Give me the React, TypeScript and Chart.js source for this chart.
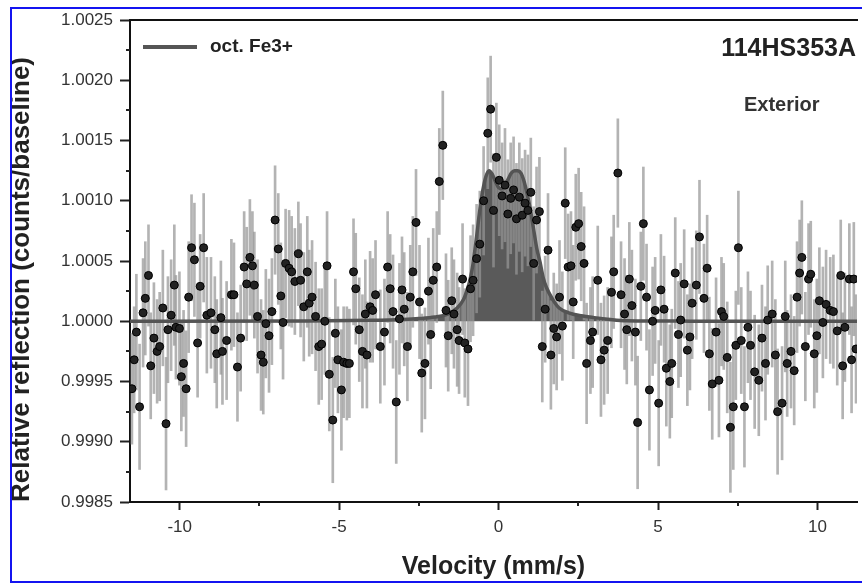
import React, { useEffect, useRef } from "react";
import { Chart, registerables } from "chart.js";

Chart.register(...registerables);

// Measured channels: velocity (mm/s), relative reflection, error (units of 1e-4)
const VELOCITY = [
  -11.5, -11.43, -11.36, -11.26, -11.15, -11.08, -10.98, -10.91, -10.81, -10.71,
  -10.63, -10.53, -10.43, -10.37, -10.27, -10.17, -10.12, -10.01, -9.95, -9.88,
  -9.8, -9.72, -9.63, -9.54, -9.44, -9.36, -9.25, -9.15, -9.02, -8.9,
  -8.84, -8.71, -8.66, -8.53, -8.38, -8.3, -8.19, -8.09, -7.98, -7.9,
  -7.8, -7.72, -7.66, -7.56, -7.45, -7.38, -7.3, -7.2, -7.11, -7.01,
  -6.91, -6.83, -6.76, -6.68, -6.57, -6.49, -6.39, -6.28, -6.21, -6.11,
  -6.0, -5.94, -5.85, -5.74, -5.64, -5.55, -5.45, -5.38, -5.31, -5.2,
  -5.12, -5.04, -4.93, -4.86, -4.76, -4.68, -4.55, -4.48, -4.37, -4.27,
  -4.18, -4.13, -4.03, -3.95, -3.86, -3.71, -3.58, -3.48, -3.4, -3.31,
  -3.21, -3.11, -3.03, -2.96, -2.86, -2.77, -2.69, -2.59, -2.48, -2.41,
  -2.31, -2.2, -2.13, -2.05, -1.94, -1.86, -1.75, -1.65, -1.58, -1.47,
  -1.4, -1.3, -1.24, -1.13, -1.06, -0.96, -0.88, -0.8, -0.69, -0.59,
  -0.47, -0.34, -0.25, -0.16, -0.07, 0.02, 0.11, 0.2, 0.29, 0.38,
  0.47, 0.56, 0.65, 0.74, 0.83, 0.92, 1.01, 1.1, 1.19, 1.28,
  1.37, 1.46, 1.55, 1.64, 1.73, 1.82, 1.91, 2.0, 2.09, 2.18,
  2.27, 2.34, 2.42, 2.51, 2.59, 2.68, 2.76, 2.88, 2.95, 3.11,
  3.21, 3.31, 3.42, 3.54, 3.61, 3.74, 3.84, 3.95, 4.02, 4.1,
  4.18, 4.29, 4.36, 4.46, 4.54, 4.64, 4.73, 4.83, 4.91, 5.02,
  5.09, 5.19, 5.26, 5.37, 5.43, 5.54, 5.64, 5.71, 5.82, 5.92,
  6.0, 6.07, 6.2, 6.3, 6.44, 6.54, 6.61, 6.7, 6.82, 6.91,
  6.99, 7.06, 7.17, 7.27, 7.36, 7.44, 7.52, 7.61, 7.71, 7.82,
  7.9, 8.03, 8.16, 8.26, 8.37, 8.44, 8.58, 8.68, 8.75, 8.89,
  8.99, 9.05, 9.17, 9.27, 9.36, 9.44, 9.51, 9.62, 9.72, 9.79,
  9.9, 9.98, 10.06, 10.17, 10.27, 10.4, 10.5, 10.62, 10.73, 10.79,
  10.86, 11.0, 11.07, 11.14, 11.21,
];

const REFLECTION = [
  0.99944, 0.99968, 0.99991, 0.99929, 1.00007, 1.00019, 1.00038, 0.99963, 0.99986, 0.99975,
  0.99979, 1.00011, 0.99915, 0.99993, 1.00005, 1.0003, 0.99995, 0.99994, 0.99954, 0.99965,
  0.99944, 1.0002, 1.00061, 1.00051, 0.99982, 1.00029, 1.00061, 1.00005, 1.00007, 0.99993,
  0.99973, 1.00003, 0.99975, 0.99984, 1.00022, 1.00022, 0.99962, 0.99986, 1.00045, 1.00031,
  1.00053, 1.00046, 1.0003, 1.00004, 0.99972, 0.99966, 0.99998, 0.99988, 1.00008, 1.00084,
  1.0006, 1.00021, 0.99999, 1.00048, 1.00044, 1.00041, 1.00033, 1.00056, 1.00034, 1.00012,
  1.00041, 1.00015, 1.0002, 1.00004, 0.99979, 0.99981, 1.0, 1.00046, 0.99956, 0.99918,
  0.9999, 0.99968, 0.99943, 0.99966, 0.99965, 0.99965, 1.00041, 1.00027, 0.99993, 0.99975,
  1.00006, 0.99972, 1.00012, 1.00009, 1.00022, 0.99979, 0.99991, 1.00045, 1.00027, 1.00008,
  0.99933, 1.00002, 1.00026, 1.0001, 0.99979, 1.0002, 1.00041, 1.00082, 1.00016, 0.99957,
  0.99965, 1.00025, 0.99989, 1.00034, 1.00045, 1.00116, 1.00146, 1.00009, 0.99988, 1.00017,
  1.00006, 0.99993, 0.99984, 1.00035, 0.99982, 0.99977, 1.00027, 1.00034, 1.00052, 1.00064,
  1.001, 1.00156, 1.00176, 1.00092, 1.00136, 1.00117, 1.00104, 1.00113, 1.00089, 1.00102,
  1.00109, 1.00085, 1.00103, 1.00088, 1.00098, 1.00092, 1.00107, 1.00048, 1.00084, 1.00091,
  0.99979, 1.0001, 1.00059, 0.99972, 0.99994, 0.99987, 1.0002, 0.99996, 1.00098, 1.00045,
  1.00046, 1.00016, 1.00078, 1.00081, 1.00062, 1.00048, 0.99965, 0.99984, 0.99991, 1.00034,
  0.99968, 0.99976, 0.99984, 1.00024, 1.00041, 1.00123, 1.00022, 1.00006, 0.99993, 1.00035,
  1.00013, 0.99991, 0.99916, 1.00029, 1.00081, 1.0002, 0.99943, 1.0, 1.00009, 0.99932,
  1.00026, 1.0001, 0.99961, 0.9995, 0.99965, 1.0004, 0.99989, 1.00001, 1.00031, 0.99976,
  0.99987, 1.00015, 1.0003, 1.0007, 1.00019, 1.00044, 0.99973, 0.99948, 0.99991, 0.99951,
  1.00008, 1.00004, 0.9997, 0.99912, 0.99929, 0.9998, 1.00061, 0.99984, 0.99929, 0.99995,
  0.9998, 0.99958, 0.99951, 0.99986, 0.99965, 1.00001, 1.00006, 0.99972, 0.99925, 0.99932,
  1.00004, 0.99965, 0.99975, 0.99959, 1.0002, 1.0004, 1.00053, 0.99979, 1.00035, 1.00039,
  0.99973, 0.99988, 1.00017, 0.99999, 1.00014, 1.00009, 1.00008, 0.99992, 1.00038, 0.99963,
  0.99995, 1.00035, 0.99968, 1.00035, 0.99977,
];

const ERROR_E4 = [
  4.6, 4.4, 4.8, 5.2, 4.5, 4.7, 4.2, 4.4, 4.6, 4.3,
  4.5, 4.8, 5.5, 4.4, 4.6, 5.0, 4.3, 4.7, 4.5, 4.4,
  4.8, 4.6, 4.4, 4.7, 4.5, 4.3, 4.5, 4.8, 4.6, 4.4,
  4.5, 4.7, 4.4, 4.9, 4.6, 4.3, 4.5, 4.4, 4.6, 4.7,
  4.8, 4.5, 4.4, 4.7, 4.6, 4.3, 4.5, 4.7, 4.4, 4.5,
  4.6, 4.4, 4.7, 4.5, 4.8, 4.6, 4.4, 4.3, 4.7, 4.5,
  4.6, 4.4, 4.7, 4.5, 4.8, 4.6, 4.4, 4.5, 4.7, 5.2,
  4.5, 4.4, 5.0, 4.6, 4.7, 4.5, 4.4, 4.6, 4.3, 4.7,
  4.5, 4.4, 4.6, 4.3, 4.5, 4.7, 4.4, 4.6, 4.5, 4.7,
  5.1, 4.6, 4.4, 4.7, 4.5, 4.3, 4.6, 4.4, 4.7, 4.9,
  4.6, 4.4, 4.5, 4.3, 4.6, 4.4, 4.5, 4.7, 4.6, 4.4,
  4.5, 4.7, 4.4, 4.6, 4.5, 4.7, 4.4, 4.6, 4.5, 4.4,
  4.5, 4.6, 4.4, 4.7, 4.5, 4.6, 4.4, 4.7, 4.5, 4.6,
  4.4, 4.6, 4.5, 4.7, 4.4, 4.6, 4.5, 4.7, 4.4, 4.5,
  4.6, 4.4, 4.7, 4.5, 4.6, 4.4, 4.7, 4.5, 4.6, 4.4,
  4.5, 4.7, 4.4, 4.6, 4.5, 4.7, 5.0, 4.4, 4.6, 4.5,
  4.7, 4.5, 4.4, 4.6, 4.7, 4.5, 4.4, 4.6, 4.5, 4.7,
  4.6, 4.4, 5.5, 4.5, 4.7, 4.4, 5.0, 4.5, 4.4, 5.2,
  4.6, 4.4, 4.8, 4.7, 4.5, 4.6, 4.4, 4.7, 4.5, 4.6,
  4.4, 4.6, 4.5, 4.7, 4.5, 4.4, 4.7, 4.6, 4.5, 4.7,
  4.5, 4.4, 4.6, 5.4, 5.2, 4.5, 4.7, 4.4, 5.0, 4.6,
  4.5, 4.7, 4.6, 4.4, 4.7, 4.5, 4.4, 4.6, 5.2, 4.7,
  4.6, 4.4, 4.7, 4.5, 4.6, 4.4, 4.7, 4.5, 4.6, 4.4,
  4.5, 4.7, 4.4, 4.6, 4.5, 4.4, 4.7, 4.5, 4.6, 4.4,
  4.5, 4.6, 4.4, 4.7, 4.5,
];

// Fitted octahedral Fe3+ doublet
const FIT_VELOCITY = [
  -11.6, -6, -4, -3, -2.5, -2.0, -1.6, -1.3, -1.1, -1.0, -0.9, -0.8, -0.7, -0.6, -0.5,
  -0.4, -0.3, -0.2, -0.1, 0.0, 0.1, 0.2, 0.3, 0.4, 0.5, 0.6, 0.7, 0.8, 0.9, 1.0,
  1.1, 1.2, 1.3, 1.4, 1.5, 1.7, 1.9, 2.2, 2.6, 3.0, 3.5, 4.0, 6.0, 11.3,
];
const FIT_REFLECTION = [
  1.0, 1.000002, 1.000008, 1.000015, 1.000022, 1.000035, 1.00006, 1.00011, 1.00018, 1.00025,
  1.00034, 1.00048, 1.00068, 1.0009, 1.00108, 1.0012, 1.00125, 1.00122, 1.00116, 1.00111,
  1.0011, 1.00113, 1.00118, 1.00123, 1.00125, 1.00125, 1.00123, 1.00116, 1.00105, 1.00092,
  1.00076, 1.0006, 1.00049, 1.00036, 1.00028, 1.00018, 1.00011, 1.00007, 1.000045, 1.00003,
  1.000015, 1.000005, 1.000001, 1.0,
];

const X_TICKS = [-10, -5, 0, 5, 10];
const X_MINOR = [-7.5, -2.5, 2.5, 7.5];
const Y_TICKS = [0.9985, 0.999, 0.9995, 1.0, 1.0005, 1.001, 1.0015, 1.002, 1.0025];
const Y_MINOR = [0.99875, 0.99925, 0.99975, 1.00025, 1.00075, 1.00125, 1.00175, 1.00225];
const X_MIN = -11.56;
const X_MAX = 11.24;
const Y_MIN = 0.9985;
const Y_MAX = 1.0025;

const LEGEND_LABEL = "oct. Fe3+";
const SAMPLE_LABEL = "114HS353A";
const REGION_LABEL = "Exterior";
const X_TITLE = "Velocity (mm/s)";
const Y_TITLE = "Relative reflection (counts/baseline)";

const FONT = "'Liberation Sans', Arial, Helvetica, sans-serif";

const decorPlugin = {
  id: "decor",
  afterDraw(chart: any) {
    const { ctx, scales } = chart;
    const x = scales.x;
    const y = scales.y;
    ctx.save();
    // minor ticks
    ctx.strokeStyle = "#222";
    ctx.lineWidth = 2;
    Y_MINOR.forEach((v) => {
      const py = Math.round(y.getPixelForValue(v));
      ctx.beginPath();
      ctx.moveTo(x.left - 4, py);
      ctx.lineTo(x.left, py);
      ctx.stroke();
    });
    X_MINOR.forEach((v) => {
      const px = Math.round(x.getPixelForValue(v));
      ctx.beginPath();
      ctx.moveTo(px, y.bottom);
      ctx.lineTo(px, y.bottom + 4);
      ctx.stroke();
    });
    // legend
    ctx.strokeStyle = "#555";
    ctx.lineWidth = 4;
    ctx.beginPath();
    ctx.moveTo(143, 47);
    ctx.lineTo(197, 47);
    ctx.stroke();
    ctx.fillStyle = "#222";
    ctx.textBaseline = "middle";
    ctx.textAlign = "left";
    ctx.font = `bold 19px ${FONT}`;
    ctx.fillText(LEGEND_LABEL, 210, 47);
    ctx.textAlign = "right";
    ctx.font = `bold 25px ${FONT}`;
    ctx.fillText(SAMPLE_LABEL, 856, 49);
    ctx.textAlign = "left";
    ctx.fillStyle = "#333";
    ctx.font = `bold 20px ${FONT}`;
    ctx.fillText(REGION_LABEL, 744, 105);
    // blue frame
    ctx.fillStyle = "#1414f0";
    ctx.fillRect(10, 7, 2, 576);
    ctx.fillRect(10, 7, 860, 2);
    ctx.fillRect(10, 581, 860, 2);
    ctx.restore();
  },
};

export default function App() {
  const canvasRef = useRef<HTMLCanvasElement | null>(null);

  useEffect(() => {
    const canvas = canvasRef.current;
    if (!canvas) return;
    const points = VELOCITY.map((v, i) => ({ x: v, y: REFLECTION[i] }));
    const bars = VELOCITY.map((v, i) => ({
      x: v,
      y: [REFLECTION[i] - ERROR_E4[i] * 1e-4, REFLECTION[i] + ERROR_E4[i] * 1e-4],
    }));
    const fit = FIT_VELOCITY.map((v, i) => ({ x: v, y: FIT_REFLECTION[i] }));

    const chart = new Chart(canvas, {
      type: "scatter",
      data: {
        datasets: [
          {
            type: "line",
            label: "fill",
            data: fit,
            borderWidth: 0,
            borderColor: "rgba(0,0,0,0)",
            backgroundColor: "#5a5a5a",
            fill: { value: 1.0 },
            pointRadius: 0,
            cubicInterpolationMode: "monotone",
            order: 4,
          } as any,
          {
            type: "bar",
            label: "err",
            data: bars as any,
            backgroundColor: "rgba(150,150,150,0.72)",
            borderWidth: 0,
            barThickness: 2,
            order: 3,
          } as any,
          {
            type: "line",
            label: LEGEND_LABEL,
            data: fit,
            borderWidth: 3.5,
            borderColor: "#545454",
            fill: false,
            pointRadius: 0,
            cubicInterpolationMode: "monotone",
            order: 2,
          } as any,
          {
            type: "scatter",
            label: "data",
            data: points,
            pointRadius: 4,
            pointBackgroundColor: "#222",
            pointBorderColor: "#000",
            pointBorderWidth: 1,
            order: 1,
          } as any,
        ],
      },
      options: {
        responsive: false,
        animation: false,
        layout: { padding: { top: 20, left: 0, right: 0, bottom: 0 } },
        plugins: { legend: { display: false }, tooltip: { enabled: false } },
        scales: {
          x: {
            type: "linear",
            position: "bottom",
            min: X_MIN,
            max: X_MAX,
            offset: false,
            afterBuildTicks: (s: any) => {
              s.ticks = X_TICKS.map((value) => ({ value }));
            },
            afterFit: (s: any) => {
              s.height = 82;
            },
            ticks: {
              color: "#333",
              font: { family: FONT, size: 17 },
              padding: 7,
              maxRotation: 0,
              callback: (v: any) => String(v),
            },
            grid: {
              drawOnChartArea: false,
              drawTicks: true,
              tickLength: 8,
              tickWidth: 2,
              tickColor: "#222",
              offset: false,
            },
            border: { display: true, color: "#111", width: 2 },
            title: {
              display: true,
              text: X_TITLE,
              color: "#222",
              font: { family: FONT, size: 25, weight: "bold" },
              padding: { top: 0, bottom: 2 },
            },
          },
          x2: {
            type: "linear",
            axis: "x",
            position: "top",
            min: X_MIN,
            max: X_MAX,
            ticks: { display: false },
            grid: { display: false, drawTicks: false },
            border: { display: true, color: "#111", width: 2 },
            afterFit: (s: any) => {
              s.height = 0;
            },
          },
          y: {
            type: "linear",
            position: "left",
            min: Y_MIN,
            max: Y_MAX,
            beginAtZero: false,
            afterBuildTicks: (s: any) => {
              s.ticks = Y_TICKS.map((value) => ({ value }));
            },
            afterFit: (s: any) => {
              s.width = 130;
            },
            ticks: {
              color: "#333",
              font: { family: FONT, size: 17 },
              padding: 7,
              callback: (v: any) => Number(v).toFixed(4),
            },
            grid: {
              drawOnChartArea: false,
              drawTicks: true,
              tickLength: 10,
              tickWidth: 2,
              tickColor: "#222",
            },
            border: { display: true, color: "#111", width: 2 },
            title: {
              display: true,
              text: Y_TITLE,
              align: "start",
              color: "#222",
              font: { family: FONT, size: 26, weight: "bold" },
              padding: { top: 6, bottom: 0 },
            },
          },
        },
      } as any,
      plugins: [decorPlugin],
    });
    return () => chart.destroy();
  }, []);

  return (
    <div
      style={{
        position: "fixed",
        left: 0,
        top: 0,
        width: 862,
        height: 584,
        overflow: "hidden",
        background: "#fff",
      }}
    >
      <canvas ref={canvasRef} width={862} height={584} style={{ display: "block", width: 862, height: 584 }} />
    </div>
  );
}
